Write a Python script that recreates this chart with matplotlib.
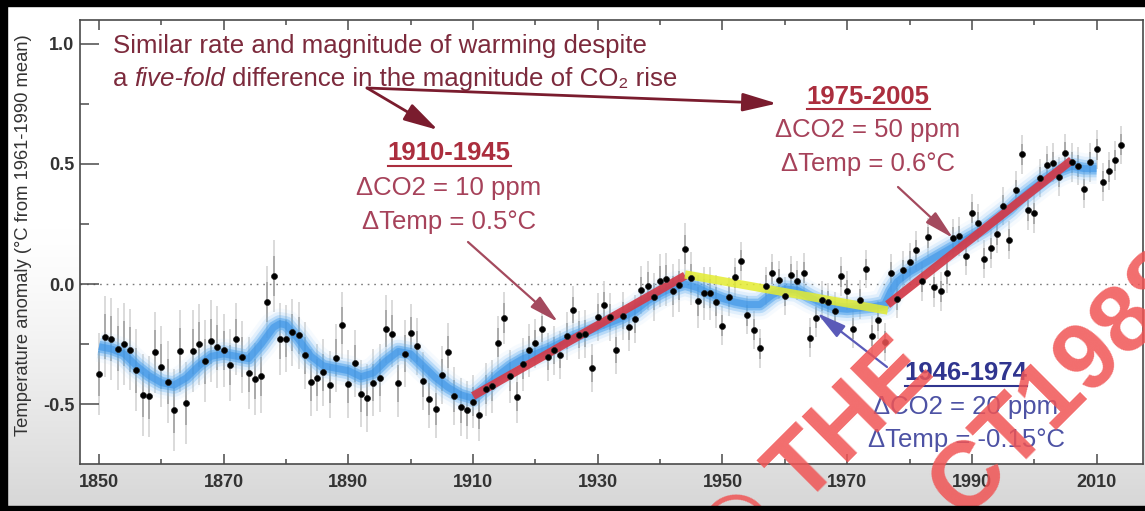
import numpy as np
import matplotlib
matplotlib.use("Agg")
import matplotlib.pyplot as plt
from matplotlib.patches import Rectangle
from matplotlib.lines import Line2D
from matplotlib.ticker import MultipleLocator, FormatStrFormatter
from matplotlib.transforms import IdentityTransform

plt.rcParams['font.family'] = ['Liberation Sans', 'DejaVu Sans']
plt.rcParams['axes.unicode_minus'] = False

W, H = 1145, 511

# Annual global temperature anomaly (°C from 1961-1990 mean), 1850-2014
years = np.arange(1850, 2015)
anomaly = np.array([
    -0.373, -0.218, -0.228, -0.269, -0.248, -0.272, -0.358, -0.461, -0.467, -0.284,
    -0.343, -0.407, -0.524, -0.278, -0.494, -0.279, -0.251, -0.321, -0.238, -0.262,
    -0.276, -0.335, -0.227, -0.304, -0.368, -0.395, -0.384, -0.075, 0.035, -0.230,
    -0.227, -0.200, -0.213, -0.296, -0.409, -0.389, -0.367, -0.418, -0.307, -0.171,
    -0.416, -0.330, -0.455, -0.473, -0.410, -0.390, -0.186, -0.206, -0.412, -0.289,
    -0.203, -0.259, -0.402, -0.479, -0.520, -0.377, -0.283, -0.465, -0.511, -0.522,
    -0.490, -0.544, -0.437, -0.424, -0.244, -0.141, -0.383, -0.468, -0.333, -0.275,
    -0.247, -0.187, -0.302, -0.276, -0.294, -0.215, -0.108, -0.210, -0.206, -0.350,
    -0.137, -0.087, -0.137, -0.273, -0.131, -0.178, -0.147, -0.026, -0.006, -0.052,
    0.014, 0.020, -0.027, -0.004, 0.144, 0.025, -0.071, -0.038, -0.039, -0.074,
    -0.173, -0.052, 0.028, 0.097, -0.129, -0.190, -0.267, -0.007, 0.046, 0.017,
    -0.049, 0.038, 0.014, 0.048, -0.223, -0.140, -0.068, -0.074, -0.113, 0.032,
    -0.027, -0.186, -0.065, 0.062, -0.214, -0.149, -0.241, 0.047, -0.062, 0.057,
    0.092, 0.140, 0.011, 0.194, -0.014, -0.030, 0.045, 0.192, 0.198, 0.118,
    0.296, 0.254, 0.105, 0.148, 0.208, 0.325, 0.183, 0.390, 0.539, 0.306,
    0.294, 0.441, 0.496, 0.505, 0.447, 0.545, 0.506, 0.491, 0.395, 0.506,
    0.560, 0.425, 0.470, 0.514, 0.579,
])

# Half-width of the uncertainty bars for each decade, 1850s ... 2010s
decade_uncert = [0.17, 0.17, 0.15, 0.14, 0.14, 0.12, 0.11, 0.10, 0.10,
                 0.11, 0.08, 0.08, 0.08, 0.08, 0.08, 0.08, 0.08]

# Decadal smoothed curve
smooth_years = [1850, 1852, 1854, 1856, 1858, 1860, 1862, 1864, 1866, 1868,
                1870, 1872, 1874, 1876, 1878, 1879, 1880, 1882, 1884, 1886,
                1888, 1890, 1892, 1894, 1896, 1898, 1900, 1902, 1904, 1906,
                1908, 1910, 1912, 1914, 1916, 1918, 1920, 1922, 1924, 1926,
                1928, 1930, 1932, 1934, 1936, 1938, 1940, 1942, 1944, 1946,
                1948, 1950, 1952, 1954, 1956, 1958, 1960, 1962, 1964, 1966,
                1968, 1970, 1972, 1974, 1976, 1977, 1978, 1980, 1982, 1984,
                1986, 1988, 1990, 1992, 1994, 1996, 1998, 2000, 2002, 2004,
                2006, 2008, 2010]
smooth_vals = [-0.26, -0.27, -0.29, -0.34, -0.38, -0.41, -0.42, -0.39, -0.34, -0.30,
               -0.29, -0.30, -0.31, -0.25, -0.18, -0.165, -0.17, -0.23, -0.30, -0.34,
               -0.35, -0.36, -0.385, -0.37, -0.32, -0.28, -0.29, -0.34, -0.39, -0.43,
               -0.46, -0.475, -0.43, -0.38, -0.34, -0.31, -0.29, -0.27, -0.245, -0.22,
               -0.20, -0.18, -0.16, -0.14, -0.11, -0.07, -0.04, -0.015, 0.0, -0.015,
               -0.04, -0.06, -0.075, -0.085, -0.085, -0.045, -0.02, -0.025, -0.055, -0.08,
               -0.10, -0.105, -0.10, -0.095, -0.085, -0.03, 0.01, 0.05, 0.08, 0.11,
               0.14, 0.17, 0.20, 0.23, 0.27, 0.31, 0.36, 0.40, 0.44, 0.47,
               0.49, 0.48, 0.48]

# Linear warming / cooling periods: start, end, starting value, ΔTemp
trend_start_years = [1910, 1944, 1976.5]
trend_end_years = [1944, 1976.5, 2006]
trend_start_vals = [-0.465, 0.04, -0.085]
trend_deltas = [0.5, -0.15, 0.6]
trend_colors = ['#d33a48', '#e4ec30', '#d33a48']
trend_alpha = [0.92, 0.85, 0.92]

x_major = [1850, 1870, 1890, 1910, 1930, 1950, 1970, 1990, 2010]
y_major = [-0.5, 0.0, 0.5, 1.0]

title_line1 = "Similar rate and magnitude of warming despite"
title_line2 = ["a", "five-fold", "difference in the magnitude of CO\u2082 rise"]
period_labels = [
    ("1910-1945", "\u0394CO2 = 10 ppm", "\u0394Temp = 0.5\u00b0C"),
    ("1975-2005", "\u0394CO2 = 50 ppm", "\u0394Temp = 0.6\u00b0C"),
    ("1946-1974", "\u0394CO2 = 20 ppm", "\u0394Temp = -0.15\u00b0C"),
]
ylabel = "Temperature anomaly (\u00b0C from 1961-1990 mean)"
overlay_lines = ["\u00a9 THE", "CT1988"]


def fp(x, y):
    """Image-style pixel position (origin top-left) -> figure fraction."""
    return x / W, 1 - y / H


fig = plt.figure(figsize=(W / 100, H / 100), dpi=100)

# soft grey backdrop
bg = fig.add_axes([0, 0, 1, 1], zorder=-10)
grad = np.linspace(0, 1, 256)
shade = np.clip((grad - 0.45) / 0.55, 0, 1) ** 1.3
rgb = np.ones((256, 1, 3)) * (1.0 - 0.16 * shade)[:, None, None]
bg.imshow(rgb, aspect='auto', extent=[0, 1, 0, 1], origin='upper')
bg.set_xlim(0, 1)
bg.set_ylim(0, 1)
bg.axis('off')

ax = fig.add_axes([80 / W, 1 - 464 / H, (1143 - 80) / W, (464 - 20) / H])
ax.set_facecolor('white')
ax.set_xlim(1846.95, 2017.45)
ax.set_ylim(-0.748, 1.098)

# zero reference line
ax.axhline(0, color='#7a7a7a', lw=1.0, ls=(0, (1.2, 3.5)), zorder=0.5)

# uncertainty bars
unc = np.array([decade_uncert[(y - 1850) // 10] for y in years])
ax.vlines(years, anomaly - unc, anomaly + unc, color='#d4d4d4', lw=1.2, zorder=1)
ax.vlines(years, anomaly - 0.55 * unc, anomaly + 0.55 * unc, color='#a2a2a2', lw=1.2, zorder=1.1)

# smoothed curve drawn as a soft blue band
for lw, alpha, c in [(22, 0.10, '#a8d3f7'), (17, 0.18, '#86c2f4'),
                     (12.5, 0.32, '#62aff0'), (8.5, 0.5, '#4aa0ec'),
                     (5, 0.6, '#3b93e6')]:
    ax.plot(smooth_years, smooth_vals, color=c, lw=lw, alpha=alpha,
            solid_capstyle='butt', solid_joinstyle='round', zorder=2)

# trend segments
for s, e, v, d, c, a in zip(trend_start_years, trend_end_years, trend_start_vals,
                            trend_deltas, trend_colors, trend_alpha):
    ax.plot([s, e], [v, v + d], color=c, lw=6, alpha=a, solid_capstyle='butt', zorder=3)

# annual values
ax.plot(years, anomaly, 'o', color='black', ms=4.3, mec='#222222', mew=0.5, zorder=5)

# axes styling
for sp in ax.spines.values():
    sp.set_color('#4a4a4a')
    sp.set_linewidth(1.2)
ax.set_xticks(x_major)
ax.xaxis.set_minor_locator(MultipleLocator(10))
ax.set_yticks(y_major)
ax.yaxis.set_minor_locator(MultipleLocator(0.25))
ax.yaxis.set_major_formatter(FormatStrFormatter('%.1f'))
ax.tick_params(axis='x', which='major', direction='in', length=7, width=1.1,
               top=True, bottom=True, labelsize=13, pad=7, colors='#4a4a4a',
               labelcolor='#333333')
ax.tick_params(axis='x', which='minor', direction='in', length=3.5, width=1.1,
               top=True, bottom=True, colors='#4a4a4a')
ax.tick_params(axis='y', which='major', direction='in', length=14, width=1.1,
               left=True, right=False, labelsize=13, pad=4, colors='#4a4a4a',
               labelcolor='#333333')
ax.tick_params(axis='y', which='minor', direction='in', length=6.5, width=1.1,
               left=True, right=False, colors='#4a4a4a')
for lbl in ax.get_xticklabels() + ax.get_yticklabels():
    lbl.set_fontweight('bold')

fig.text(*fp(23.5, 235), ylabel, rotation=90, ha='center', va='center',
         fontsize=13.2, color='#333333')

# headline
title_col = '#7c2a3c'
fig.text(*fp(113, 52.7), title_line1, fontsize=18.6, color=title_col,
         ha='left', va='baseline')
prev = fig.text(*fp(113, 86), title_line2[0], fontsize=18.6, color=title_col,
                ha='left', va='baseline')
for i, piece in enumerate(title_line2[1:]):
    prev = ax.annotate(piece, xy=(1, 0), xycoords=prev, xytext=(7, 0),
                       textcoords='offset pixels', ha='left', va='bottom',
                       fontsize=18.6, color=title_col,
                       style='italic' if i == 0 else 'normal',
                       annotation_clip=False)

# period labels: (centre x, heading baseline, line spacing)
label_pos = [(449, 160, 34.5), (868, 103.5, 34), (966, 380, 33.5)]
head_cols = ['#ab2e3e', '#ab2e3e', '#30358f']
body_cols = ['#a6425a', '#a6425a', '#4d52a4']
heads = []
for (cx, by, dy), (h, l1, l2), hc, bc in zip(label_pos, period_labels, head_cols, body_cols):
    t = fig.text(*fp(cx, by), h, fontsize=18.5, fontweight='bold', color=hc,
                 ha='center', va='baseline')
    heads.append((t, by, hc))
    fig.text(*fp(cx, by + dy), l1, fontsize=18.5, color=bc, ha='center', va='baseline')
    fig.text(*fp(cx, by + 2 * dy), l2, fontsize=18.5, color=bc, ha='center', va='baseline')

# arrows (image-style pixel coordinates)
def arrow(start, tip, color, lw, hl, hw):
    ax.annotate('', xy=(tip[0], H - tip[1]), xycoords='figure pixels',
                xytext=(start[0], H - start[1]), textcoords='figure pixels',
                arrowprops=dict(arrowstyle=f'-|>,head_length={hl},head_width={hw}',
                                color=color, lw=lw, mutation_scale=20,
                                shrinkA=0, shrinkB=0),
                annotation_clip=False)

arrow((367, 88), (777, 103.5), '#7a1c2e', 2.0, 1.05, 0.28)
arrow((367, 88), (438, 130), '#7a1c2e', 2.0, 1.05, 0.28)
arrow((468, 242), (558, 322), '#a44a5e', 1.6, 0.9, 0.22)
arrow((898, 187), (953, 238), '#a44a5e', 1.6, 0.9, 0.22)
arrow((887, 367), (817, 313), '#5a5ab8', 1.6, 0.9, 0.22)

# overlay lettering across the lower right
wm = dict(fontsize=68, fontweight='bold', color='#f05454', alpha=0.85,
          rotation=45, rotation_mode='anchor', ha='left', va='baseline', zorder=20)
fig.text(*fp(735, 575), overlay_lines[0], **wm)
fig.text(*fp(962, 520), overlay_lines[1], **wm)

# underline the period headings
fig.canvas.draw()
for t, by, hc in heads:
    bb = t.get_window_extent()
    yy = H - (by + 5.5)
    fig.add_artist(Line2D([bb.x0, bb.x1], [yy, yy], transform=IdentityTransform(),
                          color=hc, lw=1.5))

# dark frame edges
for (x0, y0, w, h) in [(0, 0, W, 6), (0, 0, 7, H), (0, 506, W, 5)]:
    fig.add_artist(Rectangle((x0 / W, 1 - (y0 + h) / H), w / W, h / H,
                             transform=fig.transFigure, color='black', zorder=30))

fig.savefig('out.png', dpi=100)
